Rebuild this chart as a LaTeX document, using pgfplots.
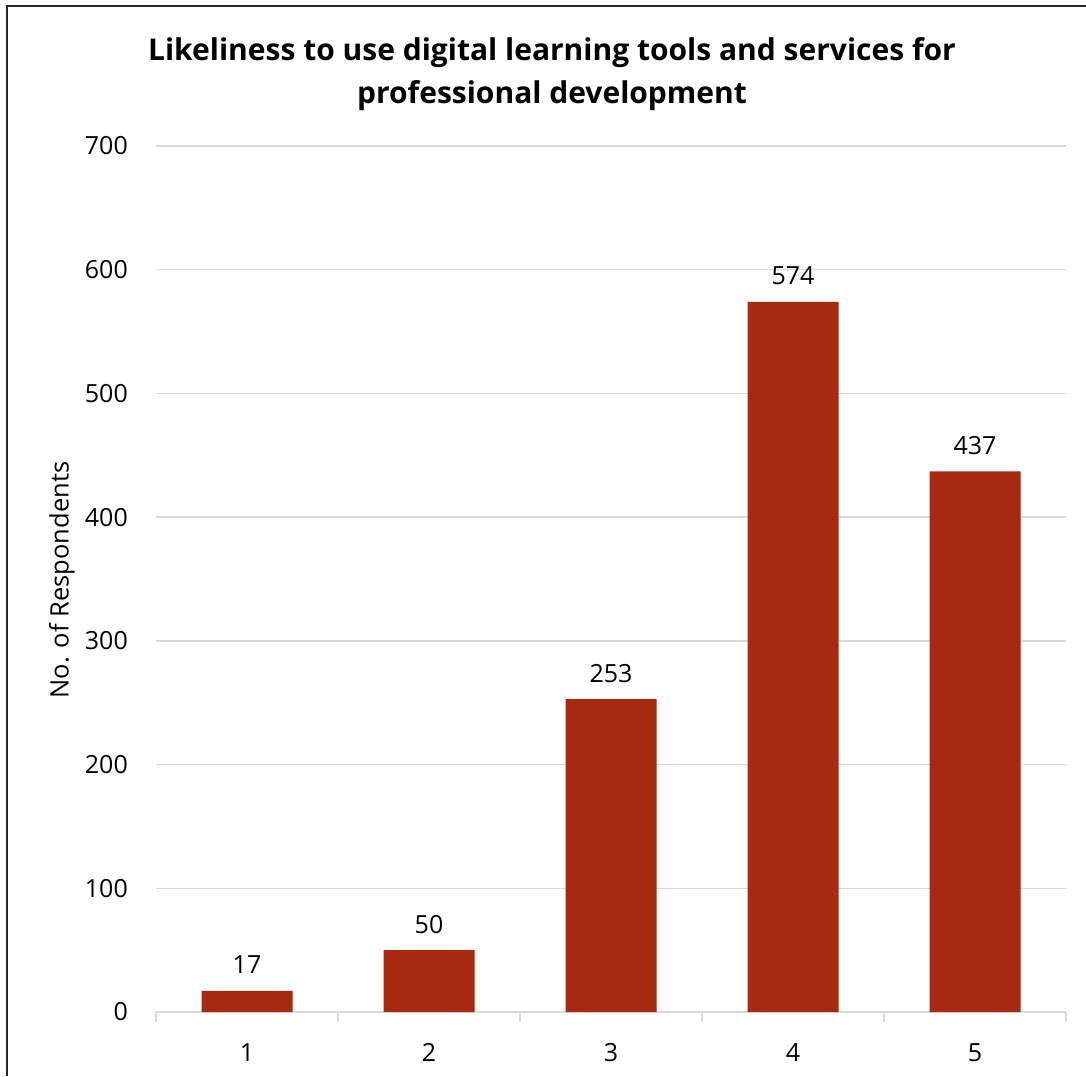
\documentclass[border=0pt]{standalone}
\usepackage{fontspec}
\setmainfont{Open Sans}
\usepackage{pgfplots}
\pgfplotsset{compat=1.18}
\definecolor{barred}{RGB}{166,41,16}
\definecolor{gridgray}{RGB}{217,217,217}
\begin{document}
\begin{tikzpicture}[x=1pt,y=1pt]
\path[use as bounding box, fill=white] (0,0) rectangle (1086,1076);
\draw[line width=1.5pt, black!85] (7,0) -- (7,1070) -- (1086,1070);
\node[font=\fontsize{30}{43}\selectfont\bfseries, align=center] at (552,1002) {Likeliness to use digital learning tools and services for\\professional development};
\node[rotate=90, font=\fontsize{25.5}{30}\selectfont] at (62,496) {No. of Respondents};
\begin{axis}[
  at={(156pt,64pt)}, anchor=south west,
  scale only axis, width=910pt, height=866pt,
  xmin=0.5, xmax=5.5, ymin=0, ymax=700,
  ytick={0,100,...,700},
  xtick={1,2,3,4,5},
  minor xtick={0.5,1.5,...,5.5},
  major tick length=0pt,
  minor tick length=10pt,
  tick align=outside,
  axis x line*=bottom, axis y line*=left,
  y axis line style={draw=none},
  x axis line style={gridgray, line width=1.5pt, -},
  every tick/.style={gridgray, line width=1.5pt},
  ymajorgrids, grid style={gridgray, line width=1.5pt},
  /pgf/number format/assume math mode=true,
  yticklabel style={font=\fontsize{25}{28}\selectfont, anchor=east, inner sep=0pt, xshift=-28pt},
  xticklabel style={font=\fontsize{25}{28}\selectfont, anchor=base, inner sep=0pt, yshift=-49pt},
  ybar, bar width=91pt, bar shift=0pt,
  nodes near coords,
  nodes near coords style={font=\fontsize{25}{28}\selectfont, anchor=base, inner sep=0pt, yshift=17pt, black},
]
\addplot[fill=barred, draw=none] coordinates {(1,17) (2,50) (3,253) (4,574) (5,437)};
\end{axis}
\end{tikzpicture}
\end{document}
